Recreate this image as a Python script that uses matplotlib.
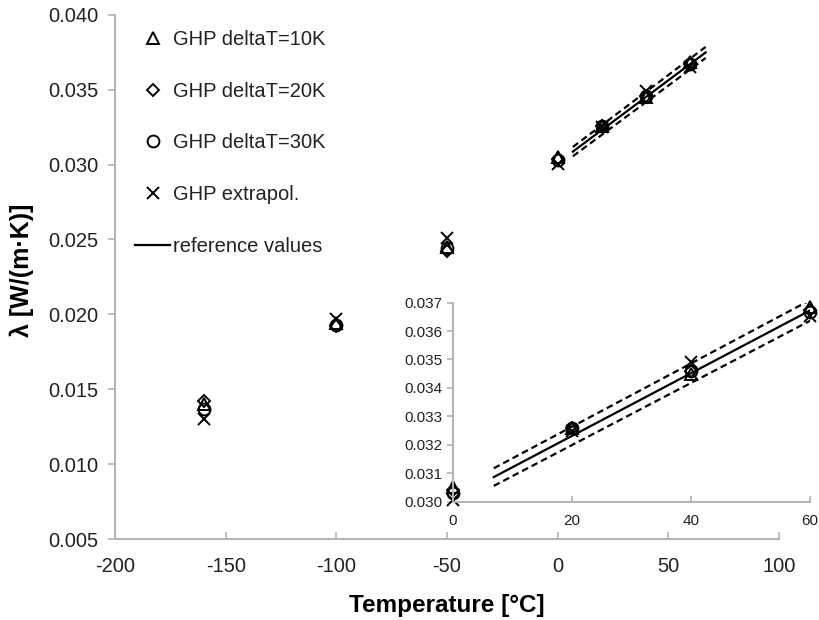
import numpy as np
import matplotlib
matplotlib.use("Agg")
import matplotlib.pyplot as plt

############################################
# DATA
############################################

# measured temperatures [°C]
temps = [-160, -100, -50, 0, 20, 40, 60]

# thermal conductivity [W/(m·K)]
ghp_dt10 = [0.0140, 0.0194, 0.0245, 0.0305, 0.0326, 0.0345, 0.03686]
ghp_dt20 = [0.0142, 0.0192, 0.0242, 0.0304, 0.0326, 0.0346, 0.03674]
ghp_dt30 = [0.0137, 0.0193, 0.0244, 0.0303, 0.0326, 0.0346, 0.03668]
ghp_extrapol = [0.0130, 0.0197, 0.0251, 0.03005, 0.0325, 0.0349, 0.03653]

# reference values (280 K .. 340 K) with +-1 % band
ref_temps = [6.85, 66.85]
ref_vals = [0.03086, 0.03748]
ref_upper = [0.03117, 0.03785]
ref_lower = [0.03055, 0.03711]

main_xticks = [-200, -150, -100, -50, 0, 50, 100]
main_yticks = [0.005, 0.010, 0.015, 0.020, 0.025, 0.030, 0.035, 0.040]
inset_xticks = [0, 20, 40, 60]
inset_yticks = [0.030, 0.031, 0.032, 0.033, 0.034, 0.035, 0.036, 0.037]

############################################
# STYLE
############################################

plt.rcParams['font.family'] = ['Liberation Sans', 'DejaVu Sans']
plt.rcParams['axes.unicode_minus'] = False

SPINE = "#b3b3b3"
TXT = "#222222"
DASH = (0, (3.0, 1.8))

series = [
    (ghp_dt10, "^", 8, "GHP deltaT=10K"),
    (ghp_dt20, "D", 6.5, "GHP deltaT=20K"),
    (ghp_dt30, "o", 8.5, "GHP deltaT=30K"),
    (ghp_extrapol, "x", 9, "GHP extrapol."),
]

def style_axes(ax, fs, ylen, xlen, ypad, xpad, xdir):
    for s in ["top", "right"]:
        ax.spines[s].set_visible(False)
    for s in ["left", "bottom"]:
        ax.spines[s].set_color(SPINE)
        ax.spines[s].set_linewidth(1.4)
    ax.tick_params(axis="y", colors=SPINE, labelcolor=TXT, labelsize=fs,
                   length=ylen, width=1.2, pad=ypad)
    ax.tick_params(axis="x", colors=SPINE, labelcolor=TXT, labelsize=fs,
                   length=xlen, width=1.2, pad=xpad, direction=xdir)

def draw_data(ax):
    handles = []
    for vals, mk, ms, lab in series:
        h, = ax.plot(temps, vals, linestyle="none", marker=mk, ms=ms,
                     mfc="none", mec="black", mew=1.4, label=lab,
                     clip_on=False)
        handles.append(h)
    h, = ax.plot(ref_temps, ref_vals, color="black", lw=1.6,
                 label="reference values")
    handles.append(h)
    ax.plot(ref_temps, ref_upper, color="black", lw=1.6, linestyle=DASH)
    ax.plot(ref_temps, ref_lower, color="black", lw=1.6, linestyle=DASH)
    return handles

############################################
# PLOT
############################################

def main():
    fig = plt.figure(figsize=(8.19, 6.2), dpi=100)

    ax = fig.add_axes([0.1404, 0.1306, 0.8108, 0.8457])
    handles = draw_data(ax)
    ax.set_xlim(-200, 100)
    ax.set_ylim(0.005, 0.040)
    ax.set_xticks(main_xticks)
    ax.set_yticks(main_yticks)
    ax.set_yticklabels([f"{v:.3f}" for v in main_yticks])
    style_axes(ax, 14.5, 5, 5, 7, 13, "in")

    ax.legend(handles=handles, loc="upper left",
              bbox_to_anchor=(0.1648, 0.9515), bbox_transform=fig.transFigure,
              frameon=False, fontsize=14.5, borderpad=0, borderaxespad=0,
              handlelength=1.75, handletextpad=0.15, labelspacing=1.62,
              labelcolor=TXT)

    fig.text(447 / 819, 0.024, "Temperature [°C]", ha="center", va="center",
             fontsize=17.5, fontweight="bold", color="black")
    fig.text(22 / 819, 1 - 270 / 620, "λ [W/(m·K)]", ha="center", va="center",
             rotation=90, fontsize=18, fontweight="bold", color="black")

    # zoomed inset
    axi = fig.add_axes([0.5531, 0.1911, 0.4359, 0.3207])
    axi.patch.set_alpha(0)
    draw_data(axi)
    axi.set_xlim(0, 60)
    axi.set_ylim(0.030, 0.037)
    axi.set_xticks(inset_xticks)
    axi.set_yticks(inset_yticks)
    axi.set_yticklabels([f"{v:.3f}" for v in inset_yticks])
    style_axes(axi, 11, 4, 4, 3.5, 9, "in")

    fig.savefig("out.png", dpi=100)
    plt.close(fig)

############################################

if __name__ == "__main__":
    main()
